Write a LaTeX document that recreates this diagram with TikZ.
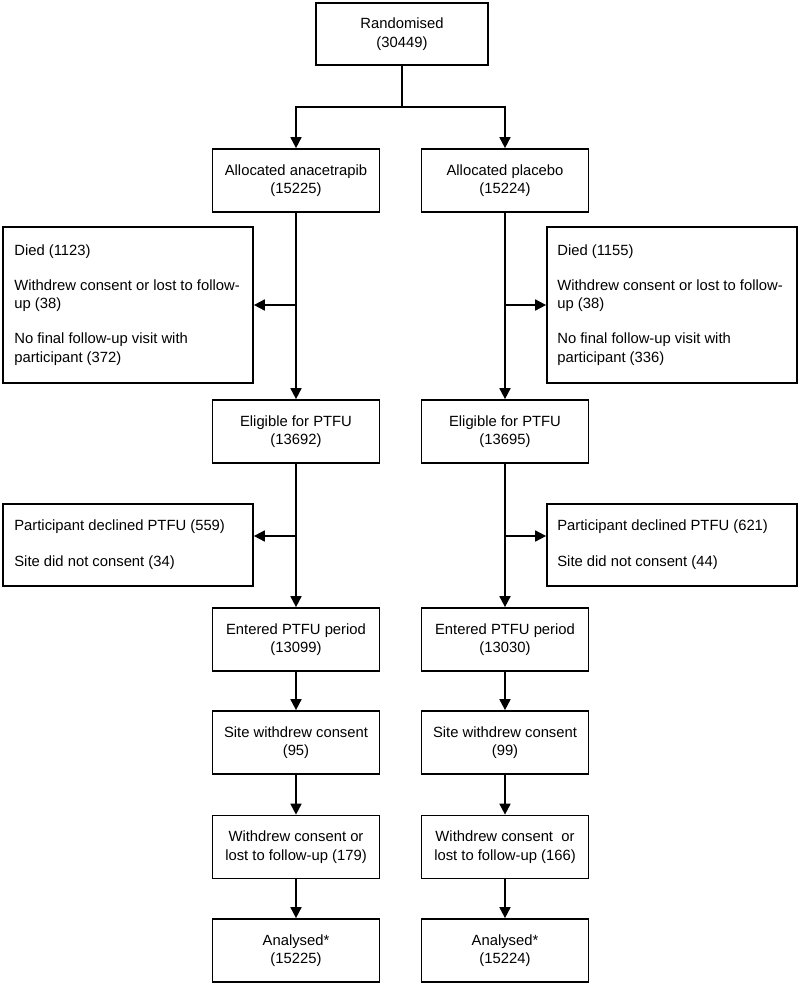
\documentclass[tikz,border=0pt]{standalone}
\usepackage{fontspec}
\setmainfont{Liberation Sans}
\usetikzlibrary{arrows.meta}
\begin{document}
\begin{tikzpicture}[x=1pt,y=-1pt,
  txt/.style={font=\fontsize{14.8}{18.5}\selectfont},
  box/.style={txt, draw, line width=1.7pt, minimum width=167pt, minimum height=63pt, inner sep=0pt, align=center},
  sidebox/.style={draw, line width=1.7pt, minimum width=250pt, inner sep=0pt},
  sidetext/.style={txt, inner sep=0pt, align=left, anchor=west},
  ln/.style={line width=1.7pt},
  arr/.style={line width=1.7pt, -{Triangle[length=11pt,width=11pt]}}]
\useasboundingbox (0,0) rectangle (800,986);

\node[box, minimum width=172pt, minimum height=62pt] (R) at (402,34) {Randomised\\(30449)};
\node[box] (AL) at (296,180.5) {Allocated anacetrapib\\(15225)};
\node[box] (AR) at (505,180.5) {Allocated placebo\\(15224)};

\node[sidebox, minimum height=156pt] (SL) at (128,305) {};
\node[sidetext] (SLt) at ([xshift=12pt]SL.west) {Died (1123)\\[16.5pt]Withdrew consent or lost to follow-\\up (38)\\[16.5pt]No final follow-up visit with\\participant (372)};
\node[sidebox, minimum height=156pt] (SR) at (672,305) {};
\node[sidetext] (SRt) at ([xshift=11pt]SR.west) {Died (1155)\\[16.5pt]Withdrew consent or lost to follow-\\up (38)\\[16.5pt]No final follow-up visit with\\participant (336)};

\node[box] (EL) at (296,431.5) {Eligible for PTFU\\(13692)};
\node[box] (ER) at (505,431.5) {Eligible for PTFU\\(13695)};

\node[sidebox, minimum height=82pt] (DL) at (128,545) {};
\node[sidetext] (DLt) at ([xshift=12pt]DL.west) {Participant declined PTFU (559)\\[17.5pt]Site did not consent (34)};
\node[sidebox, minimum height=82pt] (DR) at (672,545) {};
\node[sidetext] (DRt) at ([xshift=11pt]DR.west) {Participant declined PTFU (621)\\[17.5pt]Site did not consent (44)};

\node[box] (NL) at (296,639.5) {Entered PTFU period\\(13099)};
\node[box] (NR) at (505,639.5) {Entered PTFU period\\(13030)};
\node[box] (SWL) at (296,742.5) {Site withdrew consent\\(95)};
\node[box] (SWR) at (505,742.5) {Site withdrew consent\\(99)};
\node[box] (WL) at (296,847) {Withdrew consent or\\lost to follow-up (179)};
\node[box] (WR) at (505,847) {Withdrew consent~ or\\lost to follow-up (166)};
\node[box] (ANL) at (296,950.5) {Analysed*\\(15225)};
\node[box] (ANR) at (505,950.5) {Analysed*\\(15224)};

\coordinate (split) at (402,107);
\draw[ln] (R.south) -- (split);
\draw[arr] (split) -| (AL.north);
\draw[arr] (split) -| (AR.north);

\draw[arr] (AL.south) -- (EL.north);
\draw[arr] (AR.south) -- (ER.north);
\draw[arr] (AL.south |- SL.east) -- (SL.east);
\draw[arr] (AR.south |- SR.west) -- (SR.west);

\coordinate (dl) at (296,536);
\coordinate (dr) at (505,536);
\draw[arr] (EL.south) -- (NL.north);
\draw[arr] (ER.south) -- (NR.north);
\draw[arr] (dl) -- (dl -| DL.east);
\draw[arr] (dr) -- (dr -| DR.west);

\draw[arr] (NL.south) -- (SWL.north);
\draw[arr] (NR.south) -- (SWR.north);
\draw[arr] (SWL.south) -- (WL.north);
\draw[arr] (SWR.south) -- (WR.north);
\draw[arr] (WL.south) -- (ANL.north);
\draw[arr] (WR.south) -- (ANR.north);
\end{tikzpicture}
\end{document}
